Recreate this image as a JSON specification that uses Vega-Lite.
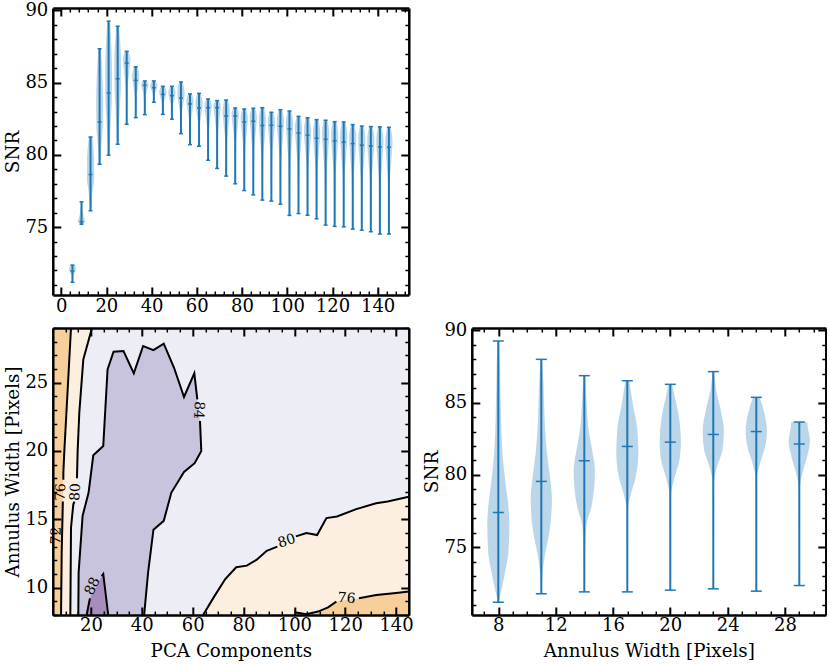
{
  "$schema": "https://vega.github.io/schema/vega-lite/v6.json",
  "background": "white",
  "padding": {"left": 3.8, "top": 1, "right": 0, "bottom": 0},
  "columns": 2,
  "bounds": "flush",
  "spacing": {"row": 33, "column": 63},
  "config": {
    "font": "DejaVu Serif",
    "view": {"stroke": null},
    "axis": {
      "grid": false, "domain": true, "domainColor": "black", "domainWidth": 2.5,
      "ticks": true, "tickColor": "black",
      "labelFont": "DejaVu Serif", "labelFontSize": 18, "labelColor": "black",
      "labelOverlap": false, "labelFlush": false, "labelBound": false,
      "titleFont": "DejaVu Serif", "titleFontSize": 18.3, "titleFontWeight": "normal", "titleColor": "black"
    }
  },
  "datasets": {
    "snr_pca": [
      {"p":5,"min":71.18,"med":71.96,"max":72.37},{"p":9,"min":75.2,"med":75.37,"max":76.75},{"p":13,"min":76.13,"med":78.64,"max":81.24},
      {"p":17,"min":79.35,"med":82.28,"max":87.35},{"p":21,"min":79.98,"med":84.29,"max":89.26},{"p":25,"min":80.74,"med":85.28,"max":88.9},
      {"p":29,"min":82.12,"med":86.36,"max":87.17},{"p":33,"min":82.58,"med":85.16,"max":86.1},{"p":37,"min":82.79,"med":84.82,"max":85.12},
      {"p":41,"min":83.64,"med":84.65,"max":85.12},{"p":45,"min":82.81,"med":84.19,"max":84.75},{"p":49,"min":82.47,"med":84.1,"max":84.75},
      {"p":53,"min":81.47,"med":83.94,"max":85.05},{"p":57,"min":80.71,"med":83.53,"max":84.22},{"p":61,"min":80.6,"med":83.25,"max":84.26},
      {"p":65,"min":79.63,"med":83.27,"max":83.87},{"p":69,"min":79.06,"med":83.27,"max":83.76},{"p":73,"min":78.53,"med":82.7,"max":83.8},
      {"p":77,"min":78.0,"med":82.7,"max":83.25},{"p":81,"min":77.53,"med":82.28,"max":83.18},{"p":85,"min":77.23,"med":82.33,"max":83.23},
      {"p":89,"min":76.87,"med":82.03,"max":83.27},{"p":93,"min":76.8,"med":82.05,"max":82.95},{"p":97,"min":76.59,"med":81.98,"max":83.13},
      {"p":101,"min":75.81,"med":81.8,"max":83.04},{"p":105,"min":75.94,"med":81.52,"max":82.67},{"p":109,"min":75.83,"med":81.36,"max":82.58},
      {"p":113,"min":75.58,"med":81.15,"max":82.44},{"p":117,"min":75.14,"med":81.08,"max":82.4},{"p":121,"min":75.05,"med":80.97,"max":82.3},
      {"p":125,"min":75.02,"med":80.88,"max":82.28},{"p":129,"min":74.86,"med":80.78,"max":82.1},{"p":133,"min":74.79,"med":80.67,"max":82.0},
      {"p":137,"min":74.68,"med":80.62,"max":81.96},{"p":141,"min":74.52,"med":80.55,"max":81.94},{"p":145,"min":74.52,"med":80.53,"max":81.91}
    ],
    "violin_pca": [
      {"p":5,"s":71.18,"l":4.8,"h":5.2},{"p":5,"s":71.65,"l":4.55,"h":5.45},{"p":5,"s":71.84,"l":3.9,"h":6.1},{"p":5,"s":72.08,"l":3.4,"h":6.6},{"p":5,"s":72.37,"l":4.2,"h":5.8},
      {"p":9,"s":75.2,"l":8.4,"h":9.6},{"p":9,"s":75.3,"l":7.8,"h":10.2},{"p":9,"s":75.34,"l":7.4,"h":10.6},{"p":9,"s":75.78,"l":8.1,"h":9.9},{"p":9,"s":76.75,"l":8.8,"h":9.2},
      {"p":13,"s":76.13,"l":12.6,"h":13.4},{"p":13,"s":77.64,"l":12,"h":14},{"p":13,"s":78.26,"l":11.4,"h":14.6},{"p":13,"s":79.42,"l":11.4,"h":14.6},{"p":13,"s":81.24,"l":12.2,"h":13.8},
      {"p":17,"s":79.35,"l":16.6,"h":17.4},{"p":17,"s":81.11,"l":16,"h":18},{"p":17,"s":81.84,"l":15.6,"h":18.4},{"p":17,"s":83.8,"l":15.5,"h":18.5},{"p":17,"s":87.35,"l":16.4,"h":17.6},
      {"p":21,"s":79.98,"l":20.6,"h":21.4},{"p":21,"s":82.57,"l":20,"h":22},{"p":21,"s":83.64,"l":19.6,"h":22.4},{"p":21,"s":85.78,"l":19.5,"h":22.5},{"p":21,"s":89.26,"l":20.4,"h":21.6},
      {"p":25,"s":80.74,"l":24.6,"h":25.4},{"p":25,"s":83.46,"l":24,"h":26},{"p":25,"s":84.6,"l":23.6,"h":26.4},{"p":25,"s":86.37,"l":23.5,"h":26.5},{"p":25,"s":88.9,"l":24.4,"h":25.6},
      {"p":29,"s":82.12,"l":28.8,"h":29.2},{"p":29,"s":84.66,"l":28.55,"h":29.45},{"p":29,"s":85.72,"l":27.9,"h":30.1},{"p":29,"s":86.6,"l":27.4,"h":30.6},{"p":29,"s":87.17,"l":28.2,"h":29.8},
      {"p":33,"s":82.58,"l":32.8,"h":33.2},{"p":33,"s":84.13,"l":32.55,"h":33.45},{"p":33,"s":84.77,"l":31.9,"h":34.1},{"p":33,"s":85.44,"l":31.4,"h":34.6},{"p":33,"s":86.1,"l":32.2,"h":33.8},
      {"p":37,"s":82.79,"l":36.8,"h":37.2},{"p":37,"s":84.0,"l":36.55,"h":37.45},{"p":37,"s":84.52,"l":35.9,"h":38.1},{"p":37,"s":84.91,"l":35.4,"h":38.6},{"p":37,"s":85.12,"l":36.2,"h":37.8},
      {"p":41,"s":83.64,"l":40.8,"h":41.2},{"p":41,"s":84.25,"l":40.55,"h":41.45},{"p":41,"s":84.5,"l":39.9,"h":42.1},{"p":41,"s":84.79,"l":39.4,"h":42.6},{"p":41,"s":85.12,"l":40.2,"h":41.8},
      {"p":45,"s":82.81,"l":44.8,"h":45.2},{"p":45,"s":83.64,"l":44.55,"h":45.45},{"p":45,"s":83.98,"l":43.9,"h":46.1},{"p":45,"s":84.36,"l":43.4,"h":46.6},{"p":45,"s":84.75,"l":44.2,"h":45.8},
      {"p":49,"s":82.47,"l":48.8,"h":49.2},{"p":49,"s":83.45,"l":48.55,"h":49.45},{"p":49,"s":83.86,"l":47.9,"h":50.1},{"p":49,"s":84.3,"l":47.4,"h":50.6},{"p":49,"s":84.75,"l":48.2,"h":49.8},
      {"p":53,"s":81.47,"l":52.8,"h":53.2},{"p":53,"s":82.95,"l":52.55,"h":53.45},{"p":53,"s":83.57,"l":51.9,"h":54.1},{"p":53,"s":84.27,"l":51.4,"h":54.6},{"p":53,"s":85.05,"l":52.2,"h":53.8},
      {"p":57,"s":80.71,"l":56.8,"h":57.2},{"p":57,"s":82.4,"l":56.55,"h":57.45},{"p":57,"s":83.11,"l":55.9,"h":58.1},{"p":57,"s":83.74,"l":55.4,"h":58.6},{"p":57,"s":84.22,"l":56.2,"h":57.8},
      {"p":61,"s":80.6,"l":60.8,"h":61.2},{"p":61,"s":82.19,"l":60.55,"h":61.45},{"p":61,"s":82.85,"l":59.9,"h":62.1},{"p":61,"s":83.55,"l":59.4,"h":62.6},{"p":61,"s":84.26,"l":60.2,"h":61.8},
      {"p":65,"s":79.63,"l":64.8,"h":65.2},{"p":65,"s":81.81,"l":64.55,"h":65.45},{"p":65,"s":82.72,"l":63.9,"h":66.1},{"p":65,"s":83.45,"l":63.4,"h":66.6},{"p":65,"s":83.87,"l":64.2,"h":65.8},
      {"p":69,"s":79.06,"l":68.8,"h":69.2},{"p":69,"s":81.59,"l":68.55,"h":69.45},{"p":69,"s":82.64,"l":67.9,"h":70.1},{"p":69,"s":83.42,"l":67.4,"h":70.6},{"p":69,"s":83.76,"l":68.2,"h":69.8},
      {"p":73,"s":78.53,"l":72.8,"h":73.2},{"p":73,"s":81.03,"l":72.55,"h":73.45},{"p":73,"s":82.07,"l":71.9,"h":74.1},{"p":73,"s":83.03,"l":71.4,"h":74.6},{"p":73,"s":83.8,"l":72.2,"h":73.8},
      {"p":77,"s":78.0,"l":76.8,"h":77.2},{"p":77,"s":80.82,"l":76.55,"h":77.45},{"p":77,"s":82.0,"l":75.9,"h":78.1},{"p":77,"s":82.87,"l":75.4,"h":78.6},{"p":77,"s":83.25,"l":76.2,"h":77.8},
      {"p":81,"s":77.53,"l":80.8,"h":81.2},{"p":81,"s":80.38,"l":80.55,"h":81.45},{"p":81,"s":81.57,"l":79.9,"h":82.1},{"p":81,"s":82.55,"l":79.4,"h":82.6},{"p":81,"s":83.18,"l":80.2,"h":81.8},
      {"p":85,"s":77.23,"l":84.8,"h":85.2},{"p":85,"s":80.29,"l":84.55,"h":85.45},{"p":85,"s":81.57,"l":83.9,"h":86.1},{"p":85,"s":82.6,"l":83.4,"h":86.6},{"p":85,"s":83.23,"l":84.2,"h":85.8},
      {"p":89,"s":76.87,"l":88.8,"h":89.2},{"p":89,"s":79.97,"l":88.55,"h":89.45},{"p":89,"s":81.26,"l":87.9,"h":90.1},{"p":89,"s":82.4,"l":87.4,"h":90.6},{"p":89,"s":83.27,"l":88.2,"h":89.8},
      {"p":93,"s":76.8,"l":92.8,"h":93.2},{"p":93,"s":79.95,"l":92.55,"h":93.45},{"p":93,"s":81.26,"l":91.9,"h":94.1},{"p":93,"s":82.32,"l":91.4,"h":94.6},{"p":93,"s":82.95,"l":92.2,"h":93.8},
      {"p":97,"s":76.59,"l":96.8,"h":97.2},{"p":97,"s":79.82,"l":96.55,"h":97.45},{"p":97,"s":81.17,"l":95.9,"h":98.1},{"p":97,"s":82.33,"l":95.4,"h":98.6},{"p":97,"s":83.13,"l":96.2,"h":97.8},
      {"p":101,"s":75.81,"l":100.8,"h":101.2},{"p":101,"s":79.4,"l":100.55,"h":101.45},{"p":101,"s":80.9,"l":99.9,"h":102.1},{"p":101,"s":82.17,"l":99.4,"h":102.6},{"p":101,"s":83.04,"l":100.2,"h":101.8},
      {"p":105,"s":75.94,"l":104.8,"h":105.2},{"p":105,"s":79.29,"l":104.55,"h":105.45},{"p":105,"s":80.68,"l":103.9,"h":106.1},{"p":105,"s":81.87,"l":103.4,"h":106.6},{"p":105,"s":82.67,"l":104.2,"h":105.8},
      {"p":109,"s":75.83,"l":108.8,"h":109.2},{"p":109,"s":79.15,"l":108.55,"h":109.45},{"p":109,"s":80.53,"l":107.9,"h":110.1},{"p":109,"s":81.73,"l":107.4,"h":110.6},{"p":109,"s":82.58,"l":108.2,"h":109.8},
      {"p":113,"s":75.58,"l":112.8,"h":113.2},{"p":113,"s":78.92,"l":112.55,"h":113.45},{"p":113,"s":80.31,"l":111.9,"h":114.1},{"p":113,"s":81.54,"l":111.4,"h":114.6},{"p":113,"s":82.44,"l":112.2,"h":113.8},
      {"p":117,"s":75.14,"l":116.8,"h":117.2},{"p":117,"s":78.7,"l":116.55,"h":117.45},{"p":117,"s":80.19,"l":115.9,"h":118.1},{"p":117,"s":81.48,"l":115.4,"h":118.6},{"p":117,"s":82.4,"l":116.2,"h":117.8},
      {"p":121,"s":75.05,"l":120.8,"h":121.2},{"p":121,"s":78.6,"l":120.55,"h":121.45},{"p":121,"s":80.08,"l":119.9,"h":122.1},{"p":121,"s":81.37,"l":119.4,"h":122.6},{"p":121,"s":82.3,"l":120.2,"h":121.8},
      {"p":125,"s":75.02,"l":124.8,"h":125.2},{"p":125,"s":78.54,"l":124.55,"h":125.45},{"p":125,"s":80.0,"l":123.9,"h":126.1},{"p":125,"s":81.3,"l":123.4,"h":126.6},{"p":125,"s":82.28,"l":124.2,"h":125.8},
      {"p":129,"s":74.86,"l":128.8,"h":129.2},{"p":129,"s":78.41,"l":128.55,"h":129.45},{"p":129,"s":79.89,"l":127.9,"h":130.1},{"p":129,"s":81.18,"l":127.4,"h":130.6},{"p":129,"s":82.1,"l":128.2,"h":129.8},
      {"p":133,"s":74.79,"l":132.8,"h":133.2},{"p":133,"s":78.32,"l":132.55,"h":133.45},{"p":133,"s":79.79,"l":131.9,"h":134.1},{"p":133,"s":81.07,"l":131.4,"h":134.6},{"p":133,"s":82.0,"l":132.2,"h":133.8},
      {"p":137,"s":74.68,"l":136.8,"h":137.2},{"p":137,"s":78.24,"l":136.55,"h":137.45},{"p":137,"s":79.73,"l":135.9,"h":138.1},{"p":137,"s":81.02,"l":135.4,"h":138.6},{"p":137,"s":81.96,"l":136.2,"h":137.8},
      {"p":141,"s":74.52,"l":140.8,"h":141.2},{"p":141,"s":78.14,"l":140.55,"h":141.45},{"p":141,"s":79.65,"l":139.9,"h":142.1},{"p":141,"s":80.97,"l":139.4,"h":142.6},{"p":141,"s":81.94,"l":140.2,"h":141.8},
      {"p":145,"s":74.52,"l":144.8,"h":145.2},{"p":145,"s":78.13,"l":144.55,"h":145.45},{"p":145,"s":79.63,"l":143.9,"h":146.1},{"p":145,"s":80.94,"l":143.4,"h":146.6},{"p":145,"s":81.91,"l":144.2,"h":145.8}
    ],
    "regions": [
      {"r":"left80","band":"76-80","i":0,"x":5,"y":29},{"r":"left80","band":"76-80","i":1,"x":20.4,"y":29},{"r":"left80","band":"76-80","i":2,"x":17,"y":26.7},{"r":"left80","band":"76-80","i":3,"x":15.42,"y":22.8},{"r":"left80","band":"76-80","i":4,"x":14.77,"y":20},{"r":"left80","band":"76-80","i":5,"x":14.38,"y":17.7},{"r":"left80","band":"76-80","i":6,"x":13.07,"y":16.1},{"r":"left80","band":"76-80","i":7,"x":12.16,"y":14.4},{"r":"left80","band":"76-80","i":8,"x":11.9,"y":8},{"r":"left80","band":"76-80","i":9,"x":5,"y":8},
      {"r":"left76","band":"<76","i":0,"x":5,"y":29},{"r":"left76","band":"<76","i":1,"x":12.16,"y":29},{"r":"left76","band":"<76","i":2,"x":9.54,"y":20},{"r":"left76","band":"<76","i":3,"x":9.15,"y":18.42},{"r":"left76","band":"<76","i":4,"x":8.9,"y":16.2},{"r":"left76","band":"<76","i":5,"x":8.5,"y":12.6},{"r":"left76","band":"<76","i":6,"x":8.24,"y":8},{"r":"left76","band":"<76","i":7,"x":5,"y":8},
      {"r":"right80","band":"76-80","i":0,"x":64.1,"y":8},{"r":"right80","band":"76-80","i":1,"x":68.27,"y":9.29},{"r":"right80","band":"76-80","i":2,"x":72.83,"y":10.63},{"r":"right80","band":"76-80","i":3,"x":77.13,"y":11.49},{"r":"right80","band":"76-80","i":4,"x":81.3,"y":11.61},{"r":"right80","band":"76-80","i":5,"x":85.2,"y":12.05},{"r":"right80","band":"76-80","i":6,"x":89.13,"y":12.7},{"r":"right80","band":"76-80","i":7,"x":93.3,"y":13.0},{"r":"right80","band":"76-80","i":8,"x":100.6,"y":13.75},{"r":"right80","band":"76-80","i":9,"x":104.77,"y":13.99},{"r":"right80","band":"76-80","i":10,"x":108.94,"y":13.85},{"r":"right80","band":"76-80","i":11,"x":112.6,"y":15.09},{"r":"right80","band":"76-80","i":12,"x":116.77,"y":15.21},{"r":"right80","band":"76-80","i":13,"x":124.33,"y":15.75},{"r":"right80","band":"76-80","i":14,"x":132.15,"y":16.18},{"r":"right80","band":"76-80","i":15,"x":136.7,"y":16.3},{"r":"right80","band":"76-80","i":16,"x":145,"y":16.65},{"r":"right80","band":"76-80","i":17,"x":145,"y":8},
      {"r":"right76","band":"<76","i":0,"x":100,"y":8},{"r":"right76","band":"<76","i":1,"x":100,"y":8.2},{"r":"right76","band":"<76","i":2,"x":104.77,"y":8.05},{"r":"right76","band":"<76","i":3,"x":109.3,"y":8.25},{"r":"right76","band":"<76","i":4,"x":113.25,"y":8.56},{"r":"right76","band":"<76","i":5,"x":116.5,"y":8.98},{"r":"right76","band":"<76","i":6,"x":125.4,"y":9.22},{"r":"right76","band":"<76","i":7,"x":132.2,"y":9.46},{"r":"right76","band":"<76","i":8,"x":140,"y":9.61},{"r":"right76","band":"<76","i":9,"x":145,"y":9.72},{"r":"right76","band":"<76","i":10,"x":145,"y":8},
      {"r":"mid84","band":"84-88","i":0,"x":15.03,"y":8},{"r":"mid84","band":"84-88","i":1,"x":15.16,"y":11.12},{"r":"mid84","band":"84-88","i":2,"x":16.73,"y":15.26},{"r":"mid84","band":"84-88","i":3,"x":19.08,"y":16.96},{"r":"mid84","band":"84-88","i":4,"x":20.92,"y":19.69},{"r":"mid84","band":"84-88","i":5,"x":24.84,"y":20.37},{"r":"mid84","band":"84-88","i":6,"x":26.54,"y":25.97},{"r":"mid84","band":"84-88","i":7,"x":28.89,"y":27.26},{"r":"mid84","band":"84-88","i":8,"x":32.81,"y":27.31},{"r":"mid84","band":"84-88","i":9,"x":36.86,"y":25.68},{"r":"mid84","band":"84-88","i":10,"x":40.52,"y":27.68},{"r":"mid84","band":"84-88","i":11,"x":44.58,"y":27.38},{"r":"mid84","band":"84-88","i":12,"x":48.63,"y":27.85},{"r":"mid84","band":"84-88","i":13,"x":52.68,"y":26.09},{"r":"mid84","band":"84-88","i":14,"x":56.6,"y":23.95},{"r":"mid84","band":"84-88","i":15,"x":60.65,"y":25.68},{"r":"mid84","band":"84-88","i":16,"x":61.83,"y":23.78},{"r":"mid84","band":"84-88","i":17,"x":62.88,"y":22.2},{"r":"mid84","band":"84-88","i":18,"x":63.4,"y":20},{"r":"mid84","band":"84-88","i":19,"x":60.78,"y":19.11},{"r":"mid84","band":"84-88","i":20,"x":56.6,"y":18.47},{"r":"mid84","band":"84-88","i":21,"x":51.63,"y":16.96},{"r":"mid84","band":"84-88","i":22,"x":48.63,"y":14.89},{"r":"mid84","band":"84-88","i":23,"x":44.58,"y":14.24},{"r":"mid84","band":"84-88","i":24,"x":42.48,"y":11.12},{"r":"mid84","band":"84-88","i":25,"x":40.92,"y":8},
      {"r":"peak88","band":">88","i":0,"x":18.3,"y":8},{"r":"peak88","band":">88","i":1,"x":19.6,"y":9.22},{"r":"peak88","band":">88","i":2,"x":24.84,"y":11},{"r":"peak88","band":">88","i":3,"x":26.8,"y":8}
    ],
    "contours": [
      {"s":"a1","i":0,"x":12.16,"y":29},{"s":"a1","i":1,"x":9.54,"y":20},{"s":"a1","i":2,"x":9.15,"y":18.42},{"s":"a1","i":3,"x":9.15,"y":17.9},
      {"s":"a2","i":0,"x":8.95,"y":16.3},{"s":"a2","i":1,"x":8.5,"y":12.6},{"s":"a2","i":2,"x":8.24,"y":8},
      {"s":"b1","i":0,"x":20.4,"y":29},{"s":"b1","i":1,"x":17,"y":26.7},{"s":"b1","i":2,"x":15.42,"y":22.8},{"s":"b1","i":3,"x":14.77,"y":20},{"s":"b1","i":4,"x":14.5,"y":18},
      {"s":"b2","i":0,"x":13.5,"y":16.3},{"s":"b2","i":1,"x":13.07,"y":16.1},{"s":"b2","i":2,"x":12.16,"y":14.4},{"s":"b2","i":3,"x":11.9,"y":8},
      {"s":"c1","i":0,"x":15.03,"y":8},{"s":"c1","i":1,"x":15.16,"y":11.12},{"s":"c1","i":2,"x":16.73,"y":15.26},{"s":"c1","i":3,"x":19.08,"y":16.96},{"s":"c1","i":4,"x":20.92,"y":19.69},{"s":"c1","i":5,"x":24.84,"y":20.37},{"s":"c1","i":6,"x":26.54,"y":25.97},{"s":"c1","i":7,"x":28.89,"y":27.26},{"s":"c1","i":8,"x":32.81,"y":27.31},{"s":"c1","i":9,"x":36.86,"y":25.68},{"s":"c1","i":10,"x":40.52,"y":27.68},{"s":"c1","i":11,"x":44.58,"y":27.38},{"s":"c1","i":12,"x":48.63,"y":27.85},{"s":"c1","i":13,"x":52.68,"y":26.09},{"s":"c1","i":14,"x":56.6,"y":23.95},{"s":"c1","i":15,"x":60.65,"y":25.68},{"s":"c1","i":16,"x":61.83,"y":23.78},
      {"s":"c2","i":0,"x":62.88,"y":22.2},{"s":"c2","i":1,"x":63.4,"y":20},{"s":"c2","i":2,"x":60.78,"y":19.11},{"s":"c2","i":3,"x":56.6,"y":18.47},{"s":"c2","i":4,"x":51.63,"y":16.96},{"s":"c2","i":5,"x":48.63,"y":14.89},{"s":"c2","i":6,"x":44.58,"y":14.24},{"s":"c2","i":7,"x":42.48,"y":11.12},{"s":"c2","i":8,"x":40.92,"y":8},
      {"s":"d1","i":0,"x":18.3,"y":8},{"s":"d1","i":1,"x":19.6,"y":9.22},
      {"s":"d2","i":0,"x":24.2,"y":10.85},{"s":"d2","i":1,"x":24.84,"y":11},{"s":"d2","i":2,"x":26.8,"y":8},
      {"s":"e1","i":0,"x":64.1,"y":8},{"s":"e1","i":1,"x":68.27,"y":9.29},{"s":"e1","i":2,"x":72.83,"y":10.63},{"s":"e1","i":3,"x":77.13,"y":11.49},{"s":"e1","i":4,"x":81.3,"y":11.61},{"s":"e1","i":5,"x":85.2,"y":12.05},{"s":"e1","i":6,"x":89.13,"y":12.7},{"s":"e1","i":7,"x":93.3,"y":13.0},
      {"s":"e2","i":0,"x":100.6,"y":13.75},{"s":"e2","i":1,"x":104.77,"y":13.99},{"s":"e2","i":2,"x":108.94,"y":13.85},{"s":"e2","i":3,"x":112.6,"y":15.09},{"s":"e2","i":4,"x":116.77,"y":15.21},{"s":"e2","i":5,"x":124.33,"y":15.75},{"s":"e2","i":6,"x":132.15,"y":16.18},{"s":"e2","i":7,"x":136.7,"y":16.3},{"s":"e2","i":8,"x":145,"y":16.65},
      {"s":"f1","i":0,"x":100,"y":8.2},{"s":"f1","i":1,"x":104.77,"y":8.05},{"s":"f1","i":2,"x":109.3,"y":8.25},{"s":"f1","i":3,"x":113.25,"y":8.56},{"s":"f1","i":4,"x":116.5,"y":8.98},
      {"s":"f2","i":0,"x":125.4,"y":9.22},{"s":"f2","i":1,"x":132.2,"y":9.46},{"s":"f2","i":2,"x":140,"y":9.61},{"s":"f2","i":3,"x":145,"y":9.72}
    ],
    "snr_annulus": [
      {"w":8,"min":71.19,"med":77.4,"max":89.27},{"w":11,"min":71.77,"med":79.55,"max":88.0},{"w":14,"min":71.9,"med":80.98,"max":86.87},{"w":17,"min":71.9,"med":81.97,"max":86.52},
      {"w":20,"min":72.02,"med":82.27,"max":86.27},{"w":23,"min":72.11,"med":82.8,"max":87.15},{"w":26,"min":71.95,"med":83.0,"max":85.37},{"w":29,"min":72.34,"med":82.14,"max":83.66}
    ],
    "violin_annulus": [
      {"w":8,"s":71.19,"l":7.98,"h":8.02},{"w":8,"s":72.3,"l":7.72,"h":8.28},{"w":8,"s":73.45,"l":7.49,"h":8.51},{"w":8,"s":74.6,"l":7.3,"h":8.7},{"w":8,"s":76.45,"l":7.23,"h":8.77},{"w":8,"s":77.84,"l":7.3,"h":8.7},{"w":8,"s":79.23,"l":7.47,"h":8.53},{"w":8,"s":80.61,"l":7.63,"h":8.37},{"w":8,"s":82.0,"l":7.74,"h":8.26},{"w":8,"s":83.85,"l":7.81,"h":8.19},{"w":8,"s":86.15,"l":7.86,"h":8.14},{"w":8,"s":88.46,"l":7.91,"h":8.09},{"w":8,"s":89.27,"l":7.95,"h":8.05},
      {"w":11,"s":71.77,"l":10.98,"h":11.02},{"w":11,"s":73.22,"l":10.91,"h":11.09},{"w":11,"s":74.61,"l":10.72,"h":11.28},{"w":11,"s":75.99,"l":10.44,"h":11.56},{"w":11,"s":78.3,"l":10.26,"h":11.74},{"w":11,"s":79.92,"l":10.4,"h":11.6},{"w":11,"s":81.54,"l":10.61,"h":11.39},{"w":11,"s":83.85,"l":10.77,"h":11.23},{"w":11,"s":86.15,"l":10.84,"h":11.16},{"w":11,"s":88.0,"l":10.95,"h":11.05},
      {"w":14,"s":71.9,"l":13.98,"h":14.02},{"w":14,"s":74.6,"l":13.95,"h":14.05},{"w":14,"s":76.45,"l":13.86,"h":14.14},{"w":14,"s":77.84,"l":13.49,"h":14.51},{"w":14,"s":79.23,"l":13.3,"h":14.7},{"w":14,"s":80.38,"l":13.26,"h":14.74},{"w":14,"s":81.54,"l":13.42,"h":14.58},{"w":14,"s":83.15,"l":13.7,"h":14.3},{"w":14,"s":85,"l":13.84,"h":14.16},{"w":14,"s":86.87,"l":13.93,"h":14.07},
      {"w":17,"s":71.9,"l":16.98,"h":17.02},{"w":17,"s":77.61,"l":16.95,"h":17.05},{"w":17,"s":78.76,"l":16.72,"h":17.28},{"w":17,"s":79.92,"l":16.4,"h":17.6},{"w":17,"s":81.54,"l":16.23,"h":17.77},{"w":17,"s":83.15,"l":16.3,"h":17.7},{"w":17,"s":85,"l":16.63,"h":17.37},{"w":17,"s":86.52,"l":16.86,"h":17.14},
      {"w":20,"s":72.02,"l":19.98,"h":20.02},{"w":20,"s":78.53,"l":19.95,"h":20.05},{"w":20,"s":79.92,"l":19.67,"h":20.33},{"w":20,"s":81.07,"l":19.35,"h":20.65},{"w":20,"s":82.23,"l":19.26,"h":20.74},{"w":20,"s":83.85,"l":19.37,"h":20.63},{"w":20,"s":85.23,"l":19.65,"h":20.35},{"w":20,"s":86.27,"l":19.88,"h":20.12},
      {"w":23,"s":72.11,"l":22.98,"h":23.02},{"w":23,"s":79.46,"l":22.95,"h":23.05},{"w":23,"s":80.61,"l":22.72,"h":23.28},{"w":23,"s":81.77,"l":22.35,"h":23.65},{"w":23,"s":83.04,"l":22.26,"h":23.74},{"w":23,"s":84.54,"l":22.49,"h":23.51},{"w":23,"s":85.92,"l":22.81,"h":23.19},{"w":23,"s":87.15,"l":22.95,"h":23.05},
      {"w":26,"s":71.95,"l":25.98,"h":26.02},{"w":26,"s":79.69,"l":25.97,"h":26.03},{"w":26,"s":80.84,"l":25.72,"h":26.28},{"w":26,"s":82,"l":25.37,"h":26.63},{"w":26,"s":83.04,"l":25.26,"h":26.74},{"w":26,"s":84.31,"l":25.44,"h":26.56},{"w":26,"s":85.37,"l":25.77,"h":26.23},
      {"w":29,"s":72.34,"l":28.98,"h":29.02},{"w":29,"s":79,"l":28.97,"h":29.03},{"w":29,"s":80.15,"l":28.77,"h":29.23},{"w":29,"s":81.3,"l":28.44,"h":29.56},{"w":29,"s":82.34,"l":28.26,"h":29.74},{"w":29,"s":83.38,"l":28.42,"h":29.58},{"w":29,"s":83.66,"l":28.45,"h":29.55}
    ]
  },
  "concat": [
    {
      "width": 356,
      "height": 287,
      "layer": [
        {
          "data": {"name": "violin_pca"},
          "mark": {"type": "area", "orient": "horizontal", "color": "#1f77b4", "opacity": 0.3, "interpolate": "monotone"},
          "encoding": {
            "x": {"field": "l", "type": "quantitative", "title": null, "scale": {"domain": [-3.7, 153.8], "nice": false},
              "axis": {"orient": "bottom", "zindex": 1, "labelPadding": 10, "values": [0,4,8,12,16,20,24,28,32,36,40,44,48,52,56,60,64,68,72,76,80,84,88,92,96,100,104,108,112,116,120,124,128,132,136,140,144,148,152],
                "labelExpr": "datum.value % 20 ? '' : datum.label",
                "tickSize": {"expr": "datum.value % 20 === 0 ? -8 : -4"}, "tickWidth": {"expr": "datum.value % 20 === 0 ? 2 : 1.5"}}},
            "x2": {"field": "h"},
            "y": {"field": "s", "type": "quantitative", "title": "SNR", "scale": {"domain": [70.3, 90.17], "nice": false, "zero": false},
              "axis": {"orient": "left", "zindex": 1, "labelPadding": 13, "titlePadding": 2, "values": [71,72,73,74,75,76,77,78,79,80,81,82,83,84,85,86,87,88,89,90],
                "labelExpr": "datum.value % 5 ? '' : datum.label",
                "tickSize": {"expr": "datum.value % 5 === 0 ? -8 : -4"}, "tickWidth": {"expr": "datum.value % 5 === 0 ? 2 : 1.5"}}},
            "detail": {"field": "p"}
          }
        },
        {
          "data": {"name": "snr_pca"},
          "mark": {"type": "rule", "color": "#1f77b4", "strokeWidth": 2},
          "encoding": {
            "x": {"field": "p", "type": "quantitative", "title": null, "scale": {"domain": [-3.7, 153.8], "nice": false},
              "axis": {"orient": "top", "zindex": 1, "labels": false, "values": [0,4,8,12,16,20,24,28,32,36,40,44,48,52,56,60,64,68,72,76,80,84,88,92,96,100,104,108,112,116,120,124,128,132,136,140,144,148,152],
                "tickSize": {"expr": "datum.value % 20 === 0 ? -8 : -4"}, "tickWidth": {"expr": "datum.value % 20 === 0 ? 2 : 1.5"}}},
            "y": {"field": "min", "type": "quantitative", "title": null, "scale": {"domain": [70.3, 90.17], "nice": false, "zero": false},
              "axis": {"orient": "right", "zindex": 1, "labels": false, "values": [71,72,73,74,75,76,77,78,79,80,81,82,83,84,85,86,87,88,89,90],
                "tickSize": {"expr": "datum.value % 5 === 0 ? -8 : -4"}, "tickWidth": {"expr": "datum.value % 5 === 0 ? 2 : 1.5"}}},
            "y2": {"field": "max"}
          }
        },
        {
          "data": {"name": "snr_pca"},
          "transform": [{"fold": ["min", "med", "max"]}],
          "mark": {"type": "tick", "orient": "horizontal", "color": "#1f77b4", "size": 4, "thickness": 1.5, "opacity": 1},
          "encoding": {
            "x": {"field": "p", "type": "quantitative", "axis": null, "scale": {"domain": [-3.7, 153.8], "nice": false}},
            "y": {"field": "value", "type": "quantitative", "axis": null, "scale": {"domain": [70.3, 90.17], "nice": false, "zero": false}}
          }
        }
      ],
      "resolve": {"axis": {"x": "independent", "y": "independent"}}
    },
    {
      "width": 354,
      "height": 287,
      "data": {"values": []},
      "mark": "point"
    },
    {
      "width": 356,
      "height": 287,
      "view": {"fill": "#ecedf5"},
      "layer": [
        {
          "data": {"name": "regions"},
          "mark": {"type": "line", "strokeWidth": 0, "stroke": null},
          "encoding": {
            "x": {"field": "x", "type": "quantitative", "title": "PCA Components", "scale": {"domain": [5, 145], "nice": false, "zero": false},
              "axis": {"orient": "bottom", "zindex": 1, "labelPadding": 10, "titlePadding": 4, "values": [5,10,15,20,25,30,35,40,45,50,55,60,65,70,75,80,85,90,95,100,105,110,115,120,125,130,135,140,145],
                "labelExpr": "datum.value % 20 ? '' : datum.label",
                "tickSize": {"expr": "datum.value % 20 === 0 ? -8 : -4"}, "tickWidth": {"expr": "datum.value % 20 === 0 ? 2 : 1.5"}}},
            "y": {"field": "y", "type": "quantitative", "title": "Annulus Width [Pixels]", "scale": {"domain": [8, 29], "nice": false, "zero": false},
              "axis": {"orient": "left", "zindex": 1, "labelPadding": 13, "titlePadding": 2, "values": [8,9,10,11,12,13,14,15,16,17,18,19,20,21,22,23,24,25,26,27,28,29],
                "labelExpr": "datum.value % 5 ? '' : datum.label",
                "tickSize": {"expr": "datum.value % 5 === 0 ? -8 : -4"}, "tickWidth": {"expr": "datum.value % 5 === 0 ? 2 : 1.5"}}},
            "detail": {"field": "r"},
            "order": {"field": "i", "type": "quantitative"},
            "fill": {"field": "band", "type": "nominal", "legend": null,
              "scale": {"domain": ["<76", "76-80", "84-88", ">88"], "range": ["#f6cf9b", "#fdefdf", "#c9c4dd", "#a78cbe"]}}
          }
        },
        {
          "data": {"name": "contours"},
          "mark": {"type": "line", "color": "black", "strokeWidth": 2},
          "encoding": {
            "x": {"field": "x", "type": "quantitative", "title": null, "scale": {"domain": [5, 145], "nice": false, "zero": false},
              "axis": {"orient": "top", "zindex": 1, "labels": false, "values": [5,10,15,20,25,30,35,40,45,50,55,60,65,70,75,80,85,90,95,100,105,110,115,120,125,130,135,140,145],
                "tickSize": {"expr": "datum.value % 20 === 0 ? -8 : -4"}, "tickWidth": {"expr": "datum.value % 20 === 0 ? 2 : 1.5"}}},
            "y": {"field": "y", "type": "quantitative", "title": null, "scale": {"domain": [8, 29], "nice": false, "zero": false},
              "axis": {"orient": "right", "zindex": 1, "labels": false, "values": [8,9,10,11,12,13,14,15,16,17,18,19,20,21,22,23,24,25,26,27,28,29],
                "tickSize": {"expr": "datum.value % 5 === 0 ? -8 : -4"}, "tickWidth": {"expr": "datum.value % 5 === 0 ? 2 : 1.5"}}},
            "detail": {"field": "s"},
            "order": {"field": "i", "type": "quantitative"}
          }
        },
        {
          "data": {"values": [{"x": 8.2, "y": 17.0, "t": "76"}, {"x": 14.0, "y": 17.0, "t": "80"}, {"x": 6.5, "y": 13.8, "t": "72"}]},
          "mark": {"type": "text", "angle": 272, "fontSize": 14, "color": "black"},
          "encoding": {
            "x": {"field": "x", "type": "quantitative", "axis": null, "scale": {"domain": [5, 145], "nice": false, "zero": false}},
            "y": {"field": "y", "type": "quantitative", "axis": null, "scale": {"domain": [8, 29], "nice": false, "zero": false}},
            "text": {"field": "t"}
          }
        },
        {
          "data": {"values": [{"x": 62.3, "y": 23.0, "t": "84"}]},
          "mark": {"type": "text", "angle": 93, "fontSize": 14, "color": "black"},
          "encoding": {
            "x": {"field": "x", "type": "quantitative", "axis": null, "scale": {"domain": [5, 145], "nice": false, "zero": false}},
            "y": {"field": "y", "type": "quantitative", "axis": null, "scale": {"domain": [8, 29], "nice": false, "zero": false}},
            "text": {"field": "t"}
          }
        },
        {
          "data": {"values": [{"x": 20.7, "y": 10.1, "t": "88"}]},
          "mark": {"type": "text", "angle": 295, "fontSize": 14, "color": "black"},
          "encoding": {
            "x": {"field": "x", "type": "quantitative", "axis": null, "scale": {"domain": [5, 145], "nice": false, "zero": false}},
            "y": {"field": "y", "type": "quantitative", "axis": null, "scale": {"domain": [8, 29], "nice": false, "zero": false}},
            "text": {"field": "t"}
          }
        },
        {
          "data": {"values": [{"x": 97, "y": 13.4, "t": "80"}]},
          "mark": {"type": "text", "angle": 342, "fontSize": 14, "color": "black"},
          "encoding": {
            "x": {"field": "x", "type": "quantitative", "axis": null, "scale": {"domain": [5, 145], "nice": false, "zero": false}},
            "y": {"field": "y", "type": "quantitative", "axis": null, "scale": {"domain": [8, 29], "nice": false, "zero": false}},
            "text": {"field": "t"}
          }
        },
        {
          "data": {"values": [{"x": 120.5, "y": 9.2, "t": "76"}]},
          "mark": {"type": "text", "angle": 5, "fontSize": 14, "color": "black"},
          "encoding": {
            "x": {"field": "x", "type": "quantitative", "axis": null, "scale": {"domain": [5, 145], "nice": false, "zero": false}},
            "y": {"field": "y", "type": "quantitative", "axis": null, "scale": {"domain": [8, 29], "nice": false, "zero": false}},
            "text": {"field": "t"}
          }
        }
      ],
      "resolve": {"axis": {"x": "independent", "y": "independent"}}
    },
    {
      "width": 354,
      "height": 287,
      "layer": [
        {
          "data": {"name": "violin_annulus"},
          "mark": {"type": "area", "orient": "horizontal", "color": "#1f77b4", "opacity": 0.3, "interpolate": "monotone"},
          "encoding": {
            "x": {"field": "l", "type": "quantitative", "title": "Annulus Width [Pixels]", "scale": {"domain": [6.15, 30.85], "nice": false, "zero": false},
              "axis": {"orient": "bottom", "zindex": 1, "labelPadding": 10, "titlePadding": 4, "values": [7,8,9,10,11,12,13,14,15,16,17,18,19,20,21,22,23,24,25,26,27,28,29,30],
                "labelExpr": "datum.value % 4 ? '' : datum.label",
                "tickSize": {"expr": "datum.value % 4 === 0 ? -8 : -4"}, "tickWidth": {"expr": "datum.value % 4 === 0 ? 2 : 1.5"}}},
            "x2": {"field": "h"},
            "y": {"field": "s", "type": "quantitative", "title": "SNR", "scale": {"domain": [70.3, 90.17], "nice": false, "zero": false},
              "axis": {"orient": "left", "zindex": 1, "labelPadding": 13, "titlePadding": 2, "values": [71,72,73,74,75,76,77,78,79,80,81,82,83,84,85,86,87,88,89,90],
                "labelExpr": "datum.value % 5 ? '' : datum.label",
                "tickSize": {"expr": "datum.value % 5 === 0 ? -8 : -4"}, "tickWidth": {"expr": "datum.value % 5 === 0 ? 2 : 1.5"}}},
            "detail": {"field": "w"}
          }
        },
        {
          "data": {"name": "snr_annulus"},
          "mark": {"type": "rule", "color": "#1f77b4", "strokeWidth": 2},
          "encoding": {
            "x": {"field": "w", "type": "quantitative", "title": null, "scale": {"domain": [6.15, 30.85], "nice": false, "zero": false},
              "axis": {"orient": "top", "zindex": 1, "labels": false, "values": [7,8,9,10,11,12,13,14,15,16,17,18,19,20,21,22,23,24,25,26,27,28,29,30],
                "tickSize": {"expr": "datum.value % 4 === 0 ? -8 : -4"}, "tickWidth": {"expr": "datum.value % 4 === 0 ? 2 : 1.5"}}},
            "y": {"field": "min", "type": "quantitative", "title": null, "scale": {"domain": [70.3, 90.17], "nice": false, "zero": false},
              "axis": {"orient": "right", "zindex": 1, "labels": false, "values": [71,72,73,74,75,76,77,78,79,80,81,82,83,84,85,86,87,88,89,90],
                "tickSize": {"expr": "datum.value % 5 === 0 ? -8 : -4"}, "tickWidth": {"expr": "datum.value % 5 === 0 ? 2 : 1.5"}}},
            "y2": {"field": "max"}
          }
        },
        {
          "data": {"name": "snr_annulus"},
          "transform": [{"fold": ["min", "med", "max"]}],
          "mark": {"type": "tick", "orient": "horizontal", "color": "#1f77b4", "size": 11, "thickness": 1.5, "opacity": 1},
          "encoding": {
            "x": {"field": "w", "type": "quantitative", "axis": null, "scale": {"domain": [6.15, 30.85], "nice": false, "zero": false}},
            "y": {"field": "value", "type": "quantitative", "axis": null, "scale": {"domain": [70.3, 90.17], "nice": false, "zero": false}}
          }
        }
      ],
      "resolve": {"axis": {"x": "independent", "y": "independent"}}
    }
  ]
}
